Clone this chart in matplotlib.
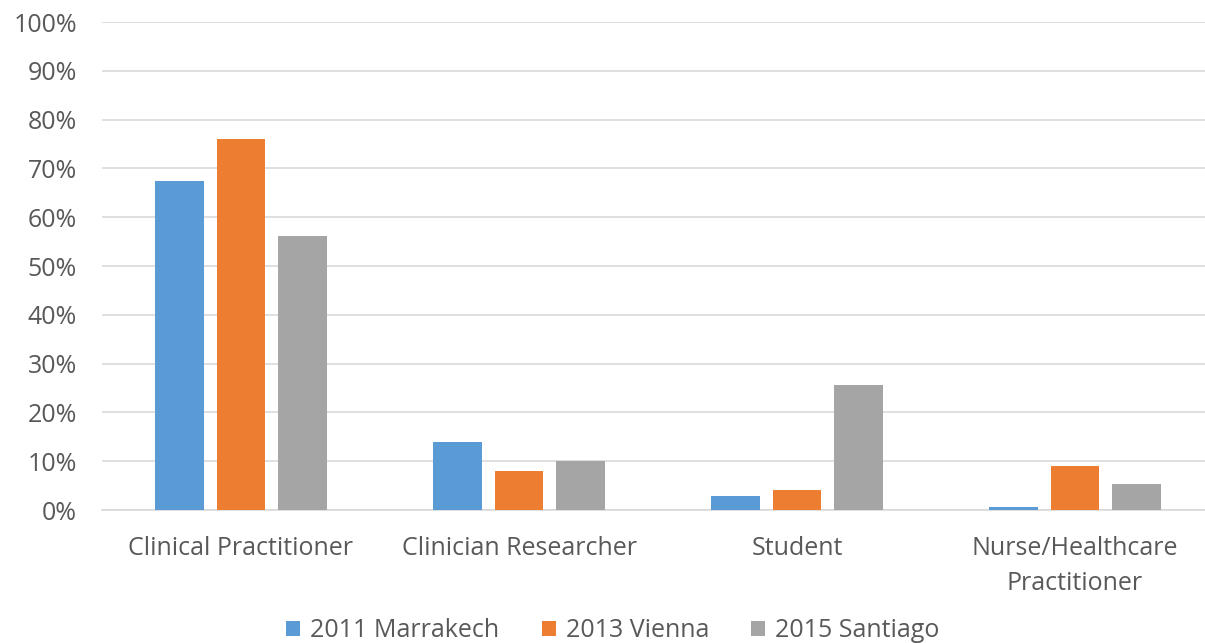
import numpy as np
import matplotlib.pyplot as plt
from matplotlib.ticker import PercentFormatter

plt.rcParams['font.family'] = ['Open Sans', 'DejaVu Sans']

categories = ['Clinical Practitioner', 'Clinician Researcher', 'Student',
              'Nurse/Healthcare\nPractitioner']
series = ['2011 Marrakech', '2013 Vienna', '2015 Santiago']
marrakech = [67.4, 13.9, 2.9, 0.6]
vienna = [76.0, 8.0, 4.1, 9.0]
santiago = [56.1, 10.0, 25.6, 5.3]
colors = ['#5B9BD5', '#ED7D31', '#A5A5A5']

fig = plt.figure(figsize=(12.05, 6.43), dpi=100)
ax = fig.add_axes([102/1205, 133/643, 1112/1205, 488/643])

x = np.arange(len(categories))
step = 0.22
width = 0.176
for i, (vals, name) in enumerate(zip([marrakech, vienna, santiago], series)):
    ax.bar(x + (i - 1) * step, vals, width, color=colors[i], label=name, zorder=3)

ax.set_xlim(-0.5, len(categories) - 0.5)
ax.set_ylim(0, 100)
ax.set_yticks(np.arange(0, 101, 10))
ax.yaxis.set_major_formatter(PercentFormatter(decimals=0))
ax.set_xticks(x)
ax.set_xticklabels(categories, linespacing=1.5)
ax.tick_params(axis='both', length=0, labelsize=18, labelcolor='#595959')
ax.tick_params(axis='y', pad=18)
ax.tick_params(axis='x', pad=19)
ax.grid(axis='y', color='#D9D9D9', linewidth=1.2, zorder=0)
for s in ['top', 'right', 'left']:
    ax.spines[s].set_visible(False)
ax.spines['bottom'].set_color('#D9D9D9')
ax.spines['bottom'].set_linewidth(1.2)

fig.legend(loc='lower center', bbox_to_anchor=(613/1205, -0.035), ncol=3,
           frameon=False, fontsize=18, labelcolor='#595959',
           handlelength=0.55, handleheight=0.55, handletextpad=0.4,
           columnspacing=1.7)

fig.savefig('out.png', dpi=100)
